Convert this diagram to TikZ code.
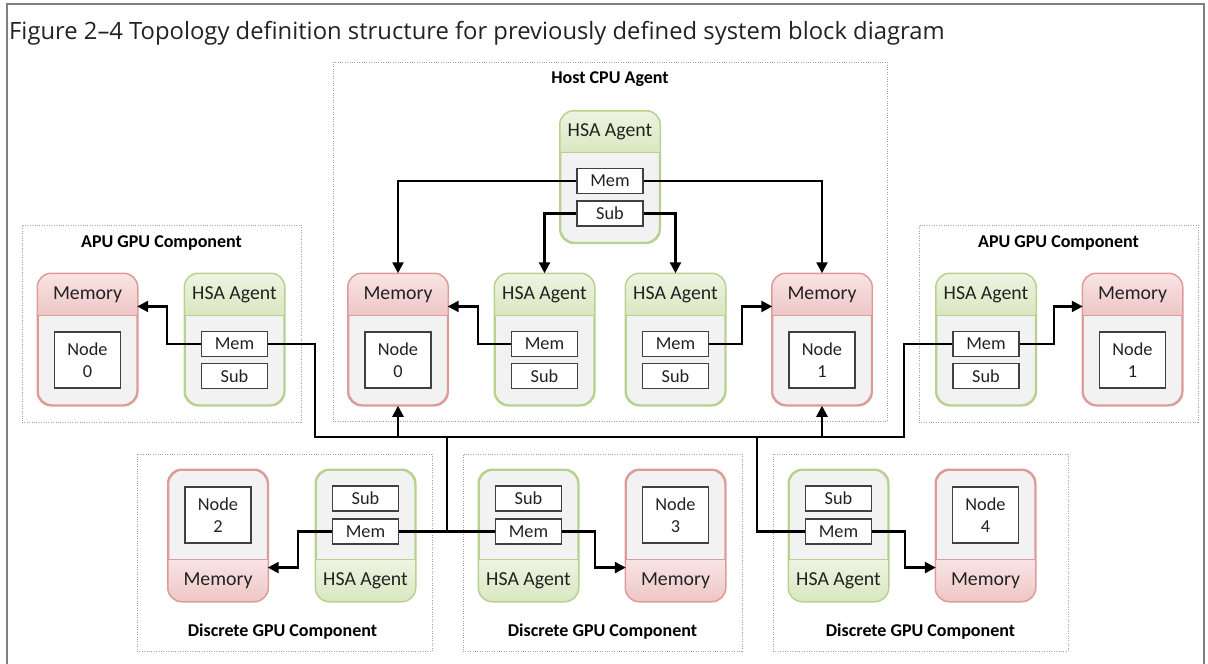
\documentclass[tikz,border=0pt]{standalone}
\usepackage{fontspec}
\setmainfont{Carlito}
\newfontfamily\titlefont{Open Sans}
\usetikzlibrary{arrows.meta,calc}

\definecolor{memline}{HTML}{DC9C9A}
\definecolor{memhi}{HTML}{F9E4E4}
\definecolor{memlo}{HTML}{EEC6C6}
\definecolor{hsaline}{HTML}{B9D18F}
\definecolor{hsahi}{HTML}{EEF4E2}
\definecolor{hsalo}{HTML}{D9E7C0}
\definecolor{bodygray}{HTML}{F2F2F2}
\definecolor{slotline}{HTML}{404040}
\definecolor{grpline}{HTML}{A0A0A0}
\definecolor{frameline}{HTML}{808080}
\definecolor{txt}{HTML}{222222}

\tikzset{
  unitbody/.style={fill=bodygray, line width=1.5pt, rounded corners=14pt, inner sep=0pt,
    minimum width=99pt, minimum height=131pt},
  hdrlabel/.style={inner sep=0pt, minimum width=99pt, minimum height=42pt, text=txt,
    font=\fontsize{19.8}{22}\selectfont},
  slot/.style={draw=slotline, fill=white, line width=1.4pt, minimum width=66pt,
    minimum height=25pt, inner sep=0pt, text=txt, font=\fontsize{18.3}{21}\selectfont},
  nodeslot/.style={slot, minimum height=56pt, align=center, font=\fontsize{18.3}{22}\selectfont},
  group/.style={draw=grpline, line width=0.8pt, dash pattern=on 0.8pt off 1.6pt, inner sep=0pt},
  grplabel/.style={font=\bfseries\fontsize{18}{21}\selectfont, text=black, inner sep=0pt},
  conn/.style={line width=2.4pt, black},
  arr/.style={conn, -{Triangle[length=11pt,width=11pt]}},
}

% unit with its title band on top
\newcommand\unitT[5]{%
  \node[unitbody, draw=#4line] (#1) at (#2,#3) {};
  \begin{scope}
    \clip[rounded corners=14pt] (#1.south west) rectangle (#1.north east);
    \fill[top color=#4hi, bottom color=#4lo] (#1.north west) rectangle ([yshift=-42pt]#1.north east);
  \end{scope}
  \draw[#4line, line width=1.2pt] ([yshift=-42pt]#1.north west) -- ([yshift=-42pt]#1.north east);
  \draw[#4line, line width=1.5pt, rounded corners=14pt] (#1.south west) rectangle (#1.north east);
  \node[hdrlabel, anchor=north] (#1-h) at (#1.north) {#5};
}
% unit with its title band at the bottom
\newcommand\unitB[5]{%
  \node[unitbody, draw=#4line] (#1) at (#2,#3) {};
  \begin{scope}
    \clip[rounded corners=14pt] (#1.south west) rectangle (#1.north east);
    \fill[top color=#4hi, bottom color=#4lo] ([yshift=42pt]#1.south west) rectangle (#1.south east);
  \end{scope}
  \draw[#4line, line width=1.2pt] ([yshift=42pt]#1.south west) -- ([yshift=42pt]#1.south east);
  \draw[#4line, line width=1.5pt, rounded corners=14pt] (#1.south west) rectangle (#1.north east);
  \node[hdrlabel, anchor=south] (#1-h) at (#1.south) {#5};
}

\begin{document}
\begin{tikzpicture}[x=1pt,y=-1pt]
\useasboundingbox (0,0) rectangle (1208,664);

% outer frame, open at the bottom
\draw[frameline, line width=2pt] (7,664) -- (7,4) -- (1204,4) -- (1204,664);

\node[anchor=base west, inner sep=0pt, text=txt, font=\titlefont\fontsize{23.8}{27}\selectfont]
  (title) at (9,39) {Figure 2–4 Topology definition structure for previously defined system block diagram};

% component groups
\node[group, minimum width=554pt, minimum height=359pt] (hostgrp) at (610,241.5) {};
\node[group, minimum width=279pt, minimum height=197pt] (apulgrp) at (161.5,323.5) {};
\node[group, minimum width=279pt, minimum height=197pt] (apurgrp) at (1058.5,323.5) {};
\node[group, minimum width=295pt, minimum height=197pt] (d1grp) at (284.5,552.5) {};
\node[group, minimum width=279pt, minimum height=197pt] (d2grp) at (602.5,552.5) {};
\node[group, minimum width=295pt, minimum height=197pt] (d3grp) at (920.5,552.5) {};

\node[grplabel] (hostlbl) at (610,79) {Host CPU Agent};
\node[grplabel] (apullbl) at (161.5,243) {APU GPU Component};
\node[grplabel] (apurlbl) at (1058.5,243) {APU GPU Component};
\node[grplabel] (d1lbl) at (282.5,632) {Discrete GPU Component};
\node[grplabel] (d2lbl) at (602.5,632) {Discrete GPU Component};
\node[grplabel] (d3lbl) at (920.5,632) {Discrete GPU Component};

% units
\unitT{ht}{610}{177}{hsa}{HSA Agent}
\unitT{m0}{398}{339.5}{mem}{Memory}
\unitT{hl}{544.5}{339.5}{hsa}{HSA Agent}
\unitT{hr}{675.5}{339.5}{hsa}{HSA Agent}
\unitT{m1}{822}{339.5}{mem}{Memory}
\unitT{alm}{87.5}{339.5}{mem}{Memory}
\unitT{alh}{234.5}{339.5}{hsa}{HSA Agent}
\unitT{arh}{986}{339.5}{hsa}{HSA Agent}
\unitT{arm}{1132.5}{339.5}{mem}{Memory}
\unitB{d1m}{218}{535.5}{mem}{Memory}
\unitB{d1h}{365.5}{535.5}{hsa}{HSA Agent}
\unitB{d2h}{528.5}{535.5}{hsa}{HSA Agent}
\unitB{d2m}{675.5}{535.5}{mem}{Memory}
\unitB{d3h}{838.5}{535.5}{hsa}{HSA Agent}
\unitB{d3m}{985.5}{535.5}{mem}{Memory}

% Mem / Sub slots
\node[slot] (htM) at (610,181) {Mem};
\node[slot] (htS) at (610,213.5) {Sub};
\node[slot] (hlM) at (544.5,344) {Mem};
\node[slot] (hlS) at (544.5,376) {Sub};
\node[slot] (hrM) at (675.5,344) {Mem};
\node[slot] (hrS) at (675.5,376) {Sub};
\node[slot] (alhM) at (234.5,344) {Mem};
\node[slot] (alhS) at (234.5,376) {Sub};
\node[slot] (arhM) at (986,344) {Mem};
\node[slot] (arhS) at (986,376) {Sub};
\node[slot] (d1hS) at (365.5,498.5) {Sub};
\node[slot] (d1hM) at (365.5,531.5) {Mem};
\node[slot] (d2hS) at (528.5,498.5) {Sub};
\node[slot] (d2hM) at (528.5,531.5) {Mem};
\node[slot] (d3hS) at (838.5,498.5) {Sub};
\node[slot] (d3hM) at (838.5,531.5) {Mem};

% memory node slots
\node[nodeslot] (m0N) at (398,360) {Node\\0};
\node[nodeslot] (m1N) at (822,360) {Node\\1};
\node[nodeslot] (almN) at (87.5,360) {Node\\0};
\node[nodeslot] (armN) at (1132.5,360) {Node\\1};
\node[nodeslot] (d1mN) at (218,515) {Node\\2};
\node[nodeslot] (d2mN) at (675.5,515) {Node\\3};
\node[nodeslot] (d3mN) at (985.5,515) {Node\\4};

% shared bus
\coordinate (busL) at (315,437);
\coordinate (busR) at (904,437);
\coordinate (drop1) at (447,437);
\coordinate (drop2) at (757,437);
\draw[conn] (alhM.east) -| (busL) -- (busR) |- (arhM.west);
\draw[arr] (m0.south |- busL) -- (m0.south);
\draw[arr] (m1.south |- busL) -- (m1.south);
\draw[conn] (drop1) -- (drop1 |- d1hM.east);
\draw[conn] (d1hM.east) -- (d2hM.west);
\draw[conn] (drop2) |- (d3hM.west);

% host agent links
\draw[arr] (htM.west) -| (m0.north);
\draw[arr] (htM.east) -| (m1.north);
\draw[arr] (htS.west) -| (hl.north);
\draw[arr] (htS.east) -| (hr.north);

% agent to memory links
\draw[arr] (hlM.west) -- ++(-33,0) |- ([yshift=-12pt]m0-h.east);
\draw[arr] (hrM.east) -- ++(33,0) |- ([yshift=-12pt]m1-h.west);
\draw[arr] (alhM.west) -- ++(-34,0) |- ([yshift=-12pt]alm-h.east);
\draw[arr] (arhM.east) -- ++(34,0) |- ([yshift=-12pt]arm-h.west);
\draw[arr] (d1hM.west) -- ++(-34,0) |- ([yshift=13pt]d1m-h.east);
\draw[arr] (d2hM.east) -- ++(33,0) |- ([yshift=13pt]d2m-h.west);
\draw[arr] (d3hM.east) -- ++(33,0) |- ([yshift=13pt]d3m-h.west);
\end{tikzpicture}
\end{document}
